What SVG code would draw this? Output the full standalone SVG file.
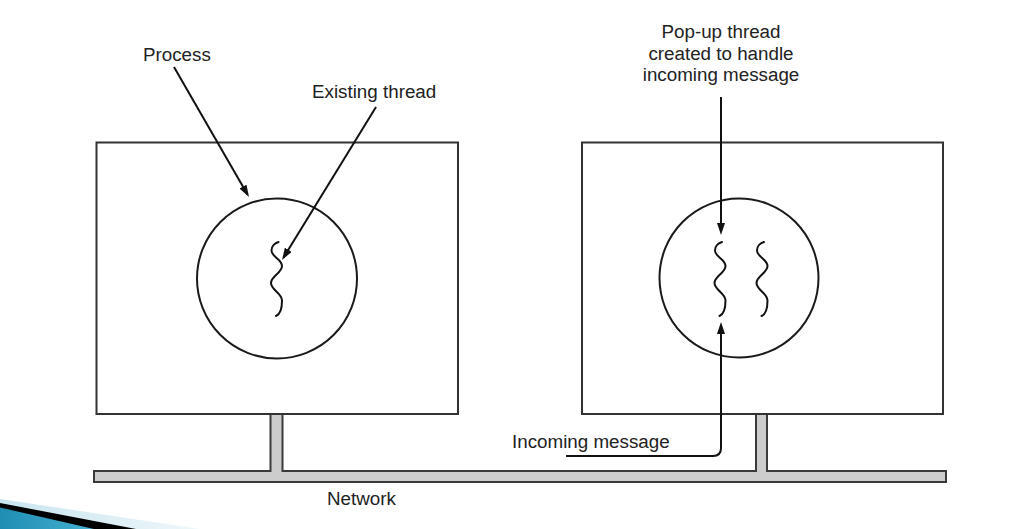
<svg xmlns="http://www.w3.org/2000/svg" width="1013" height="529" viewBox="0 0 1013 529">
<style>
.box{fill:#fff;stroke:#333;stroke-width:2}
.proc{fill:none;stroke:#1a1a1a;stroke-width:2}
.thr{fill:none;stroke:#111;stroke-width:2;stroke-linecap:round}
.arr{fill:none;stroke:#111;stroke-width:2}
.lbl{font-family:"Liberation Sans",Arial,sans-serif;font-size:18.8px;fill:#222}
.net{fill:#cccccc;stroke:#3a3a3a;stroke-width:2;stroke-linejoin:miter}
</style>
<defs>
<marker id="ah" viewBox="0 0 12 8" refX="9" refY="4" markerWidth="12" markerHeight="8" markerUnits="userSpaceOnUse" orient="auto">
<path d="M0,0 L12,4 L0,8 z" fill="#111"/>
</marker>
<path id="thread" d="M 1.5 242 C -2 243, -5.5 246, -5.5 250.5 C -5.5 257, 5 259, 5 266 C 5 273, -6 276, -6 283 C -6 290, 5 293, 5 300.5 C 5 308, 4 314, -1 316"/>
<linearGradient id="teal" x1="0" y1="0" x2="1" y2="0">
<stop offset="0" stop-color="#1f8db3"/>
<stop offset="1" stop-color="#45b0d0"/>
</linearGradient>
<linearGradient id="pale" x1="0" y1="0" x2="1" y2="0">
<stop offset="0" stop-color="#c9e5ef"/>
<stop offset="1" stop-color="#eef7fa"/>
</linearGradient>
</defs>

<g id="decoration">
<polygon points="0,499 200,529 0,529" fill="url(#pale)"/>
<polygon points="0,503 136,529 0,529" fill="#000"/>
<polygon points="0,507.5 94,529 0,529" fill="url(#teal)"/>
</g>

<g id="network">
<path class="net" d="M 94 471 H 270.5 V 414 H 282.5 V 471 H 756 V 414 H 767 V 471 H 946 V 482 H 94 Z"/>
<text class="lbl" x="327" y="504.5">Network</text>
</g>

<g id="machine-left">
<rect class="box" x="96.5" y="142.5" width="361.5" height="271.5"/>
<circle class="proc" cx="277" cy="278.5" r="80"/>
<use href="#thread" class="thr" transform="translate(277,0)"/>
</g>

<g id="machine-right">
<rect class="box" x="582" y="142.5" width="361" height="271.5"/>
<circle class="proc" cx="739" cy="278" r="79.5"/>
<use href="#thread" class="thr" transform="translate(720.5,0)"/>
<use href="#thread" class="thr" transform="translate(762.5,0)"/>
</g>

<g id="labels">
<text class="lbl" x="143" y="61">Process</text>
<text class="lbl" x="312" y="98">Existing thread</text>
<text class="lbl" text-anchor="middle" x="721" y="38">Pop-up thread</text>
<text class="lbl" text-anchor="middle" x="721" y="59.5">created to handle</text>
<text class="lbl" text-anchor="middle" x="721" y="80.5">incoming message</text>
<text class="lbl" x="512" y="448">Incoming message</text>
</g>

<g id="connectors">
<path class="arr" d="M 174 67 L 247.5 194.4" marker-end="url(#ah)"/>
<path class="arr" d="M 376 107 L 283.6 257.4" marker-end="url(#ah)"/>
<path class="arr" d="M 721 97 V 232" marker-end="url(#ah)"/>
<path class="arr" d="M 566 456 H 713 Q 721 456 721 448 V 325" marker-end="url(#ah)"/>
</g>
</svg>
